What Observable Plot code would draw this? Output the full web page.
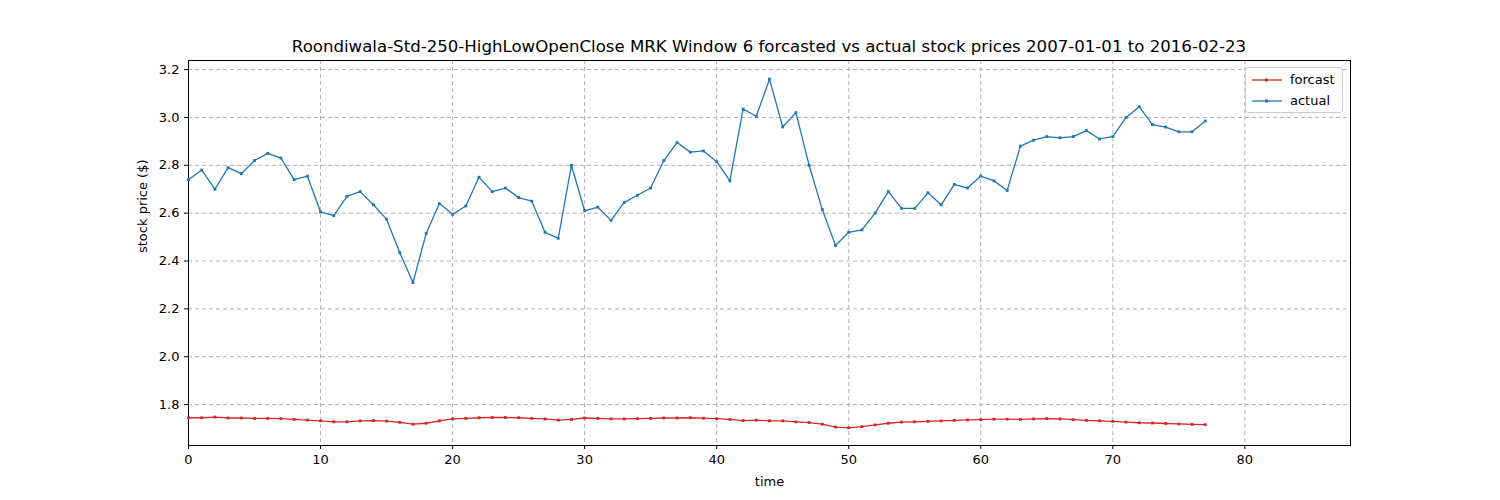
<!DOCTYPE html>
<html>
<head>
<meta charset="utf-8">
<script src="https://cdn.jsdelivr.net/npm/d3@7"></script>
<script src="https://cdn.jsdelivr.net/npm/@observablehq/plot@0.6"></script>
<style>
  body { margin: 0; font-family: "DejaVu Sans", sans-serif; background: #fff; }
  #wrap { position: relative; width: 1500px; height: 500px; }
  #title { position: absolute; top: 37px; left: 188px; width: 1162px; text-align: center; font-size: 16.6px; }
  #legend { position: absolute; left: 1245px; top: 67px; width: 96px; border: 1px solid #ccc; border-radius: 3px; background: #fff; font-size: 13px; padding: 1px 0; }
  #legend div { display: flex; align-items: center; height: 21px; }
  #legend svg { margin: 0 8px 0 6px; }
</style>
</head>
<body>
<div id="wrap">
  <div id="title">Roondiwala-Std-250-HighLowOpenClose MRK Window 6 forcasted vs actual stock prices 2007-01-01 to 2016-02-23</div>
  <div id="chart"></div>
  <div id="legend">
    <div><svg width="30" height="8"><line x1="0" y1="4" x2="30" y2="4" stroke="#d62728" stroke-width="1.3"/><rect x="13" y="2.5" width="3" height="3" fill="#d62728"/></svg>forcast</div>
    <div><svg width="30" height="8"><line x1="0" y1="4" x2="30" y2="4" stroke="#1f77b4" stroke-width="1.3"/><rect x="13" y="2.5" width="3" height="3" fill="#1f77b4"/></svg>actual</div>
  </div>
</div>
<script>
// actual closing prices, time steps 0..77
const actual = [2.74, 2.78, 2.70, 2.79, 2.765, 2.82, 2.85, 2.83, 2.74, 2.755,
  2.605, 2.59, 2.67, 2.69, 2.635, 2.575, 2.435, 2.31, 2.515, 2.64,
  2.595, 2.63, 2.75, 2.69, 2.705, 2.665, 2.65, 2.52, 2.495, 2.80,
  2.61, 2.625, 2.57, 2.645, 2.675, 2.705, 2.82, 2.895, 2.855, 2.86,
  2.815, 2.735, 3.035, 3.005, 3.16, 2.96, 3.02, 2.80, 2.615, 2.465,
  2.52, 2.53, 2.60, 2.69, 2.62, 2.62, 2.685, 2.635, 2.72, 2.705,
  2.755, 2.735, 2.695, 2.88, 2.905, 2.92, 2.915, 2.92, 2.945, 2.91,
  2.92, 3.00, 3.045, 2.97, 2.96, 2.94, 2.94, 2.985]

// forecast prices
const forcast = [1.745, 1.745, 1.748, 1.744, 1.744, 1.742, 1.742, 1.741, 1.738, 1.735,
  1.732, 1.728, 1.728, 1.732, 1.733, 1.731, 1.726, 1.718, 1.722, 1.732,
  1.740, 1.742, 1.745, 1.746, 1.746, 1.745, 1.742, 1.740, 1.735, 1.738,
  1.744, 1.742, 1.740, 1.740, 1.741, 1.742, 1.744, 1.744, 1.745, 1.743,
  1.741, 1.738, 1.733, 1.735, 1.732, 1.732, 1.728, 1.725, 1.718, 1.706,
  1.703, 1.708, 1.715, 1.722, 1.727, 1.728, 1.730, 1.732, 1.734, 1.736,
  1.737, 1.739, 1.739, 1.738, 1.740, 1.741, 1.740, 1.737, 1.734, 1.732,
  1.730, 1.727, 1.724, 1.723, 1.721, 1.719, 1.717, 1.716]

const xTicks = [0, 10, 20, 30, 40, 50, 60, 70, 80]
const yTicks = [1.8, 2.0, 2.2, 2.4, 2.6, 2.8, 3.0, 3.2]

const actualData = actual.map((v, i) => ({t: i, v}))
const forcastData = forcast.map((v, i) => ({t: i, v}))

const plot = Plot.plot({
  width: 1500,
  height: 500,
  marginTop: 60,
  marginBottom: 55,
  marginLeft: 188,
  marginRight: 150,
  style: {fontFamily: "DejaVu Sans", fontSize: "13px", color: "#000", background: "#fff"},
  x: {domain: [0, 88], ticks: xTicks, label: null, tickSize: 4},
  y: {domain: [1.629, 3.238], ticks: yTicks, tickFormat: d3.format(".1f"), label: null, tickSize: 4},
  marks: [
    Plot.gridX(xTicks, {stroke: "#b0b0b0", strokeOpacity: 1, strokeDasharray: "4,3"}),
    Plot.gridY(yTicks, {stroke: "#b0b0b0", strokeOpacity: 1, strokeDasharray: "4,3"}),
    Plot.frame({stroke: "#000"}),
    Plot.axisX({ticks: xTicks, tickSize: 4, label: null}),
    Plot.axisY({ticks: yTicks, tickSize: 4, tickFormat: d3.format(".1f"), label: null}),
    Plot.line(forcastData, {x: "t", y: "v", stroke: "#d62728", strokeWidth: 1.3}),
    Plot.dot(forcastData, {x: "t", y: "v", fill: "#d62728", r: 1.6, symbol: "square"}),
    Plot.line(actualData, {x: "t", y: "v", stroke: "#1f77b4", strokeWidth: 1.3}),
    Plot.dot(actualData, {x: "t", y: "v", fill: "#1f77b4", r: 1.6, symbol: "square"}),
    Plot.text(["time"], {frameAnchor: "bottom", dy: 40, fontSize: 13}),
    Plot.text(["stock price ($)"], {frameAnchor: "left", dx: -46, rotate: -90, fontSize: 13})
  ]
})
document.querySelector("#chart").append(plot)
</script>
</body>
</html>
